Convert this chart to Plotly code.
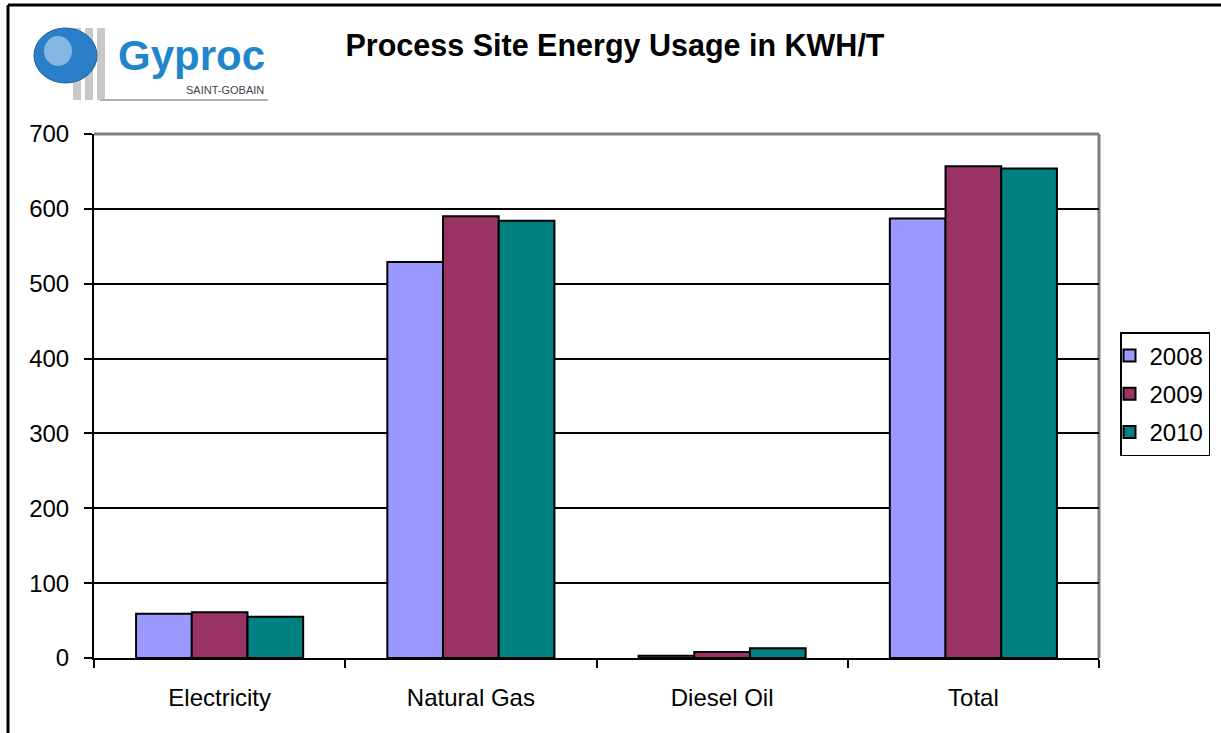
import plotly.graph_objects as go

categories = ["Electricity", "Natural Gas", "Diesel Oil", "Total"]
years = ["2008", "2009", "2010"]
values_2008 = [59, 529, 3, 587]
values_2009 = [61, 590, 8, 657]
values_2010 = [55, 584, 13, 654]
colors = ["#9999FF", "#993366", "#008080"]
y_ticks = [0, 100, 200, 300, 400, 500, 600, 700]

FONT = "Arial, Liberation Sans, sans-serif"

fig = go.Figure()
for yr, vals, col in zip(years, [values_2008, values_2009, values_2010], colors):
    fig.add_trace(go.Bar(
        name=yr, x=categories, y=vals,
        marker=dict(color=col, line=dict(color="black", width=2)),
        legendgroup=yr,
    ))

W, H = 1221, 733
L, R, T, B = 94, 1099, 134, 658

fig.update_layout(
    width=W, height=H,
    margin=dict(l=L, r=W - R, t=T, b=H - B),
    paper_bgcolor="white", plot_bgcolor="white",
    barmode="group", bargap=0.335, bargroupgap=0,
    font=dict(family=FONT, size=25, color="black"),
    title=dict(text="<b>Process Site Energy Usage in KWH/T</b>",
               x=615 / W, xanchor="center", y=1 - 45 / H, yanchor="middle",
               font=dict(size=30.5, family=FONT, color="black")),
    legend=dict(
        xref="container", yref="container",
        x=1120 / W, xanchor="left", y=1 - 332 / H, yanchor="top",
        bordercolor="black", borderwidth=1.5, bgcolor="white",
        font=dict(size=24, family=FONT), traceorder="grouped",
        tracegroupgap=4, itemwidth=30, indentation=-12,
    ),
    xaxis=dict(
        showline=True, linecolor="black", linewidth=2,
        ticks="outside", tickson="boundaries", ticklen=8, tickwidth=2, tickcolor="black",
        showgrid=False, tickfont=dict(size=24), ticklabelstandoff=17,
    ),
    yaxis=dict(
        range=[0, 700], tickvals=y_ticks,
        showline=True, linecolor="black", linewidth=2,
        ticks="outside", ticklen=8, tickwidth=2, tickcolor="black",
        showgrid=True, gridcolor="black", gridwidth=1.5,
        zeroline=False, tickfont=dict(size=24), ticklabelstandoff=10,
    ),
)

def pxx(x): return (x - L) / (R - L)
def pyy(y): return (B - y) / (B - T)

# plot area top/right border in grey
fig.add_shape(type="line", xref="paper", yref="paper", x0=0, x1=1, y0=1, y1=1,
              line=dict(color="#808080", width=3), layer="above")
fig.add_shape(type="line", xref="paper", yref="paper", x0=1, x1=1, y0=0, y1=1,
              line=dict(color="#808080", width=3), layer="below")

# outer frame (left & top)
fig.add_shape(type="line", xref="paper", yref="paper", x0=pxx(8), x1=pxx(8),
              y0=pyy(H + 2), y1=pyy(5), line=dict(color="black", width=3))
fig.add_shape(type="line", xref="paper", yref="paper", x0=pxx(8), x1=pxx(W + 2),
              y0=pyy(5), y1=pyy(5), line=dict(color="black", width=3))

# logo
for x0, x1 in [(73, 81), (85, 93), (97, 105)]:
    fig.add_shape(type="rect", xref="paper", yref="paper",
                  x0=pxx(x0), x1=pxx(x1), y0=pyy(100), y1=pyy(28),
                  fillcolor="#C8C8C8", line=dict(width=0), layer="below")
fig.add_shape(type="line", xref="paper", yref="paper", x0=pxx(100), x1=pxx(268),
              y0=pyy(100), y1=pyy(100), line=dict(color="#B0B0B0", width=2))
fig.add_shape(type="circle", xref="paper", yref="paper",
              x0=pxx(34), x1=pxx(97), y0=pyy(83), y1=pyy(28),
              fillcolor="#2A7FC8", line=dict(color="#1B5E9E", width=1))
fig.add_shape(type="circle", xref="paper", yref="paper",
              x0=pxx(44), x1=pxx(72), y0=pyy(66), y1=pyy(36),
              fillcolor="#9CC6EA", line=dict(width=0), opacity=0.8)
fig.add_annotation(text="<b>Gyproc</b>", xref="paper", yref="paper",
                   x=pxx(116), y=pyy(56), xanchor="left", yanchor="middle",
                   showarrow=False, font=dict(size=42, color="#1F86CC", family=FONT))
fig.add_annotation(text="SAINT-GOBAIN", xref="paper", yref="paper",
                   x=pxx(266), y=pyy(90), xanchor="right", yanchor="middle",
                   showarrow=False, font=dict(size=11, color="#444444", family=FONT))

fig.write_html("out.html", config={"displayModeBar": False},
               post_script="document.body.style.margin='0';")
